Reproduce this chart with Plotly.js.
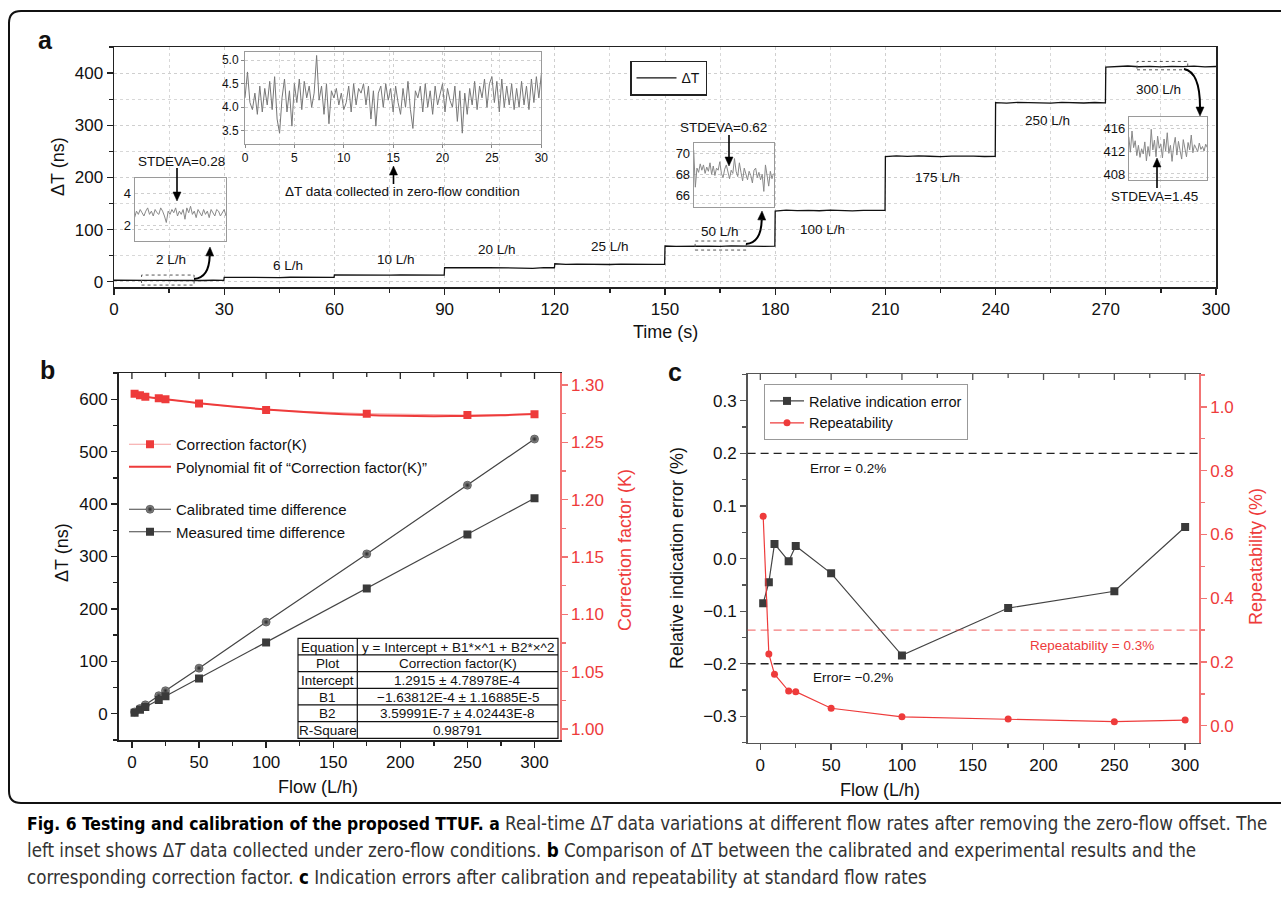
<!DOCTYPE html>
<html><head><meta charset="utf-8">
<script src="https://cdn.plot.ly/plotly-3.0.1.min.js"></script>
<style>html,body{margin:0;padding:0;background:#fff;}#chart{width:1281px;height:908px;}</style>
</head><body><div id="chart"></div>
<script>
// ---------------- data ----------------
// Panel a : real-time ΔT (ns) versus time (s)
const timeS = [
 0,3,6,9,12,15,18,21,24,27,29.9,
 30,33,36,39,42,45,48,51,54,57,59.9,
 60,63,66,69,72,75,78,81,84,87,89.9,
 90,93,96,99,102,105,108,111,114,117,119.9,
 120,123,126,129,132,135,138,141,144,147,149.9,
 150,153,156,159,162,165,168,171,174,177,179.9,
 180,183,186,189,192,195,198,201,204,207,209.9,
 210,213,216,219,222,225,228,231,234,237,239.9,
 240,243,246,249,252,255,258,261,264,267,269.9,
 270,273,276,279,282,285,288,291,294,297,300];
const deltaT = [
 2.9,2.5,3.1,2.6,2.8,2.4,3.0,2.7,2.5,2.9,2.6,
 8.6,8.2,8.9,8.3,8.5,8.1,8.7,8.4,8.2,8.6,8.3,
 13.2,12.8,13.4,12.9,13.1,12.7,13.3,13.0,12.8,13.2,12.9,
 27.3,26.8,27.5,26.9,27.2,26.7,27.4,26.9,25.8,27.1,26.9,
 34.5,33.2,33.8,33.4,33.6,33.1,33.9,33.3,33.5,33.2,33.6,
 68.5,67.9,68.6,68.1,68.4,67.8,68.7,68.0,68.3,67.9,68.4,
 135.5,137.2,136.3,136.9,136.1,137.4,136.6,136.0,136.8,136.2,136.7,
 239.8,241.2,240.3,241.5,240.6,239.9,241.0,240.2,240.8,240.1,240.6,
 343.5,342.6,343.8,342.9,343.4,342.5,343.9,343.1,342.7,343.6,343.0,
 411.5,412.8,413.6,412.1,413.0,411.8,412.9,412.3,413.4,412.0,412.6];
const flowLabels = ["2 L/h","6 L/h","10 L/h","20 L/h","25 L/h","50 L/h","100 L/h","175 L/h","250 L/h","300 L/h"];

// Left inset: zero-flow ΔT, sampled every 0.25 s from 0 to 30 s
const zeroFlowStart = 0, zeroFlowStep = 0.25;
const zeroFlowDT = [
 4.2,4.75,4.1,3.95, 4.3,3.85,4.45,3.9, 4.4,4.05,4.55,3.95, 4.65,3.75,3.45,4.2,
 4.6,3.9,4.35,3.6, 4.5,4.1,4.6,3.95, 4.55,4.2,4.45,4.0, 4.3,5.1,4.15,4.45,
 3.85,4.5,3.65,4.35, 4.2,4.4,4.05,4.3, 3.95,4.1,4.45,3.9, 4.5,4.05,4.4,4.3,
 4.5,4.05,4.45,3.75, 4.35,3.6,4.3,4.45, 4.0,4.5,4.15,4.4, 3.9,4.45,4.1,3.85,
 4.4,4.0,4.55,3.95, 3.55,4.35,4.2,4.45, 3.9,4.5,4.0,4.35, 3.85,4.45,4.05,4.3,
 4.5,3.9,4.4,4.15, 4.0,4.45,3.7,4.35, 3.45,4.3,3.85,4.4, 4.05,4.55,3.95,4.45,
 4.2,4.6,4.0,4.5, 4.65,4.1,4.55,3.9, 4.6,4.0,4.45,4.05, 4.5,3.95,4.4,4.0,
 4.55,4.05,4.45,3.95, 4.6,4.1,4.65,4.2, 4.7];
const zeroFlowTime = zeroFlowDT.map((_, i) => zeroFlowStart + i * zeroFlowStep);

// Small insets (zoomed segments of the trace)
const inset2Lh = [2.5,2.9,2.7,3.0,2.8,2.6,2.9,3.1,2.7,2.9,2.6,3.0,2.8,2.7,3.1,2.9,2.6,2.2,2.9,2.7,3.0,2.8,3.1,2.6,2.9,2.7,3.0,2.4,3.1,2.8,3.2,2.7,2.9,2.5,3.0,2.8,2.6,3.0,2.7,2.9,2.5,3.0,2.8,2.6,3.0,2.9,2.6,2.8,3.0,2.6];
const inset50Lh = [70.3,66.8,68.6,68.2,69.0,68.4,68.9,68.1,68.7,68.3,69.1,68.0,68.8,67.9,68.6,68.4,69.2,68.1,67.7,68.5,68.9,68.2,67.6,68.4,68.1,69.5,68.3,67.8,69.1,68.2,67.4,68.6,68.0,67.5,68.3,67.9,67.2,68.4,68.6,67.7,68.2,67.5,68.0,66.4,68.9,67.8,66.9,68.3,67.6,68.1];
const inset300Lh = [414.5,411.8,415.5,412.6,413.8,411.2,413.0,410.9,412.4,411.5,413.6,410.3,412.8,411.1,415.8,412.2,413.9,411.0,414.6,412.5,413.2,410.8,414.1,412.0,415.2,411.6,413.0,410.2,412.9,414.4,411.3,413.7,412.1,410.6,414.0,412.4,411.0,413.5,412.2,414.8,411.7,413.1,412.6,411.9,413.4,412.3,412.8,412.0,413.2,412.6];
const sampleIndex = n => Array.from({length: n}, (_, i) => i);

// Panel b
const flowB = [2, 6, 10, 20, 25, 50, 100, 175, 250, 300];
const correctionK = [1.2925, 1.2912, 1.2897, 1.2884, 1.2876, 1.2840, 1.2782, 1.2750, 1.2738, 1.2746];
const fitFlow = [2, 25, 50, 75, 100, 125, 150, 175, 200, 225, 250, 275, 300];
const fitK = [1.29118, 1.28763, 1.28421, 1.28124, 1.27872, 1.27665, 1.27503, 1.27386, 1.27314, 1.27287, 1.27305, 1.27368, 1.27476];
const calibratedDT = [3.5, 10, 17, 34.5, 44, 87, 175, 305, 436, 524];
const measuredDT = [2, 7.5, 13, 26.5, 33.5, 67.5, 136, 239, 342, 411];
const tableRows = [
  ["Equation", "y = Intercept + B1*×^1 + B2*×^2"],
  ["Plot", "Correction factor(K)"],
  ["Intercept", "1.2915 ± 4.78978E-4"],
  ["B1", "−1.63812E-4 ± 1.16885E-5"],
  ["B2", "3.59991E-7 ± 4.02443E-8"],
  ["R-Square", "0.98791"]];

// Panel c
const flowC = [2, 6, 10, 20, 25, 50, 100, 175, 250, 300];
const relError = [-0.085, -0.045, 0.028, -0.005, 0.024, -0.028, -0.184, -0.094, -0.062, 0.060];
const repeatability = [0.657, 0.225, 0.162, 0.109, 0.107, 0.055, 0.028, 0.021, 0.013, 0.018];
const errorLimit = 0.2, repeatLimit = 0.3;
const flowTickVals = [0, 25, 50, 75, 100, 125, 150, 175, 200, 225, 250, 275, 300];

// ---------------- helpers (pixel -> paper) ----------------
const W = 1281, H = 908;
const X = p => p / W, Y = p => 1 - p / H;
const dX = (a, b) => [a / W, b / W];
const dY = (top, bot) => [1 - bot / H, 1 - top / H];
const RED = '#ee3b3b', REDAX = 'rgba(238,70,70,0.75)';
const FONT = 'Liberation Sans, Arial, Helvetica, sans-serif';

function ann(text, x, y, o) {
  return Object.assign({text, x: X(x), y: Y(y), xref: 'paper', yref: 'paper', showarrow: false,
    xanchor: 'center', yanchor: 'middle', font: {size: 13, color: '#111'}}, o || {});
}
const shapes = [];
function head(tx, ty, fx, fy) {
  const L = 9, w = 4;
  const dx = tx - fx, dy = ty - fy, len = Math.hypot(dx, dy), ux = dx / len, uy = dy / len;
  const bx = tx - ux * L, by = ty - uy * L, nx = -uy, ny = ux;
  const pts = [[tx, ty], [bx + nx * w, by + ny * w], [bx - nx * w, by - ny * w]];
  shapes.push({type: 'path', xref: 'paper', yref: 'paper', layer: 'above',
    path: 'M' + pts.map(p => X(p[0]) + ',' + Y(p[1])).join(' L') + ' Z',
    fillcolor: '#000', line: {color: '#000', width: 0.5}});
  return [bx, by];
}
function straightArrow(fx, fy, tx, ty) {
  const b = head(tx, ty, fx, fy);
  shapes.push({type: 'line', xref: 'paper', yref: 'paper', x0: X(fx), y0: Y(fy), x1: X(b[0]), y1: Y(b[1]),
    line: {color: '#000', width: 1.6}});
}
function curvedArrow(fx, fy, cx, cy, tx, ty) {
  const b = head(tx, ty, cx, cy);
  shapes.push({type: 'path', xref: 'paper', yref: 'paper',
    path: `M${X(fx)},${Y(fy)} Q${X(cx)},${Y(cy)} ${X(b[0])},${Y(b[1])}`,
    line: {color: '#000', width: 2}});
}
// inward tick marks on the top frame line of panels b and c
function topTicks(xref, topPx, color) {
  flowTickVals.forEach((v, i) => {
    const len = (i % 2 === 0) ? 6 : 4;
    shapes.push({type: 'line', xref: xref, yref: 'paper', x0: v, x1: v, y0: Y(topPx), y1: Y(topPx + len),
      line: {color: color, width: 1.3}});
  });
}

// ---------------- traces ----------------
const traces = [
  {x: timeS, y: deltaT, xaxis: 'x', yaxis: 'y', mode: 'lines', name: 'ΔT', legend: 'legend',
   line: {color: '#111', width: 1.3}},
  {x: zeroFlowTime, y: zeroFlowDT, xaxis: 'x2', yaxis: 'y2', mode: 'lines', showlegend: false,
   line: {color: '#777', width: 1}},
  {x: sampleIndex(inset2Lh.length), y: inset2Lh, xaxis: 'x3', yaxis: 'y3', mode: 'lines', showlegend: false,
   line: {color: '#888', width: 1}},
  {x: sampleIndex(inset50Lh.length), y: inset50Lh, xaxis: 'x4', yaxis: 'y4', mode: 'lines', showlegend: false,
   line: {color: '#888', width: 1}},
  {x: sampleIndex(inset300Lh.length), y: inset300Lh, xaxis: 'x5', yaxis: 'y5', mode: 'lines', showlegend: false,
   line: {color: '#888', width: 1}},
  {x: flowB, y: correctionK, xaxis: 'x6', yaxis: 'y7', mode: 'lines+markers', name: 'Correction factor(K)',
   legend: 'legend2', legendgroup: 'k', line: {color: 'rgba(238,80,80,0.55)', width: 1},
   marker: {symbol: 'square', size: 8, color: RED}},
  {x: fitFlow, y: fitK, xaxis: 'x6', yaxis: 'y7', mode: 'lines', line: {shape: 'spline', color: RED, width: 2},
   name: 'Polynomial fit of “Correction factor(K)”', legend: 'legend2', legendgroup: 'k'},
  {x: flowB, y: calibratedDT, xaxis: 'x6', yaxis: 'y6', mode: 'lines+markers', name: 'Calibrated time difference',
   legend: 'legend2', legendgroup: 'd', line: {color: '#444', width: 1.2},
   marker: {symbol: 'circle', size: 8, color: '#9a9a9a', gradient: {type: 'radial', color: '#262626'}, line: {color: '#333', width: 0.6}}},
  {x: flowB, y: measuredDT, xaxis: 'x6', yaxis: 'y6', mode: 'lines+markers', name: 'Measured time difference',
   legend: 'legend2', legendgroup: 'd', line: {color: '#444', width: 1.2},
   marker: {symbol: 'square', size: 8, color: '#3a3a3a'}},
  {x: flowC, y: relError, xaxis: 'x7', yaxis: 'y8', mode: 'lines+markers', name: 'Relative indication error',
   legend: 'legend3', line: {color: '#444', width: 1.2}, marker: {symbol: 'square', size: 8, color: '#3a3a3a'}},
  {x: flowC, y: repeatability, xaxis: 'x7', yaxis: 'y9', mode: 'lines+markers', name: 'Repeatability',
   legend: 'legend3', line: {color: RED, width: 1.2}, marker: {symbol: 'circle', size: 7, color: RED}}
];

// ---------------- axes ----------------
const tf = s => ({size: s, color: '#111', family: FONT});
const baseAx = {showline: true, linecolor: '#222', linewidth: 1.5, zeroline: false, showgrid: false,
  ticks: 'outside', tickcolor: '#222', tickwidth: 1.3, ticklen: 6, tickfont: tf(17)};
const insetAx = {showline: true, linecolor: '#9a9a9a', linewidth: 1, mirror: true, zeroline: false,
  showgrid: true, gridcolor: '#cfcfcf', griddash: 'dot', gridwidth: 1, ticks: 'outside', ticklen: 3,
  tickcolor: '#888', tickfont: tf(12)};

const layout = {
  width: W, height: H, margin: {l: 0, r: 0, t: 0, b: 0, pad: 0}, autosize: false,
  paper_bgcolor: '#fff', plot_bgcolor: 'rgba(0,0,0,0)', font: {family: FONT, color: '#111'},
  xaxis: Object.assign({}, baseAx, {domain: dX(114, 1216), range: [0, 300], anchor: 'y', tick0: 0, dtick: 30,
    mirror: true, showgrid: true, gridcolor: '#cfcfcf', griddash: 'dot',
    minor: {dtick: 15, ticks: 'outside', ticklen: 4, tickcolor: '#222', showgrid: true, gridcolor: '#d8d8d8', griddash: 'dot'}}),
  yaxis: Object.assign({}, baseAx, {domain: dY(47, 287), range: [-10, 450], anchor: 'x', tick0: 0, dtick: 100,
    mirror: true, showgrid: true, gridcolor: '#cfcfcf', griddash: 'dot',
    minor: {dtick: 50, ticks: 'outside', ticklen: 4, tickcolor: '#222', showgrid: true, gridcolor: '#d8d8d8', griddash: 'dot'}}),
  xaxis2: Object.assign({}, insetAx, {domain: dX(245, 541.3), range: [0, 30], anchor: 'y2', tick0: 0, dtick: 5}),
  yaxis2: Object.assign({}, insetAx, {domain: dY(51.7, 144), range: [3.22, 5.18], anchor: 'x2', tick0: 3.5, dtick: 0.5, tickformat: '.1f'}),
  xaxis3: Object.assign({}, insetAx, {domain: dX(134.6, 226), range: [0, 49], anchor: 'y3', showticklabels: false, ticks: '', showgrid: false}),
  yaxis3: Object.assign({}, insetAx, {domain: dY(177.7, 241), range: [1.06, 4.96], anchor: 'x3', tickvals: [2, 4], ticks: '', tickfont: tf(13)}),
  xaxis4: Object.assign({}, insetAx, {domain: dX(693.7, 773.6), range: [0, 49], anchor: 'y4', showticklabels: false, ticks: '', showgrid: false}),
  yaxis4: Object.assign({}, insetAx, {domain: dY(143.3, 206.7), range: [64.96, 70.94], anchor: 'x4', tickvals: [66, 68, 70], ticks: '', tickfont: tf(13)}),
  xaxis5: Object.assign({}, insetAx, {domain: dX(1128.8, 1207.3), range: [0, 49], anchor: 'y5', showticklabels: false, ticks: '', showgrid: false}),
  yaxis5: Object.assign({}, insetAx, {domain: dY(116.7, 180), range: [406.95, 418.0], anchor: 'x5', tickvals: [408, 412, 416], ticks: '', tickfont: tf(13)}),
  xaxis6: Object.assign({}, baseAx, {domain: dX(118.5, 560), range: [-10, 319], anchor: 'y6', tick0: 0, dtick: 50, mirror: true,
    minor: {dtick: 25, ticks: 'outside', ticklen: 4, tickcolor: '#222'}}),
  yaxis6: Object.assign({}, baseAx, {domain: dY(373, 740), range: [-50, 650], anchor: 'x6', tick0: 0, dtick: 100,
    minor: {dtick: 50, ticks: 'outside', ticklen: 4, tickcolor: '#222'}}),
  yaxis7: Object.assign({}, baseAx, {overlaying: 'y6', side: 'right', anchor: 'x6', range: [0.9904, 1.3105], tick0: 1, dtick: 0.05,
    tickformat: '.2f', linecolor: REDAX, tickcolor: REDAX, tickfont: {size: 17, color: RED, family: FONT},
    minor: {dtick: 0.025, ticks: 'outside', ticklen: 4, tickcolor: REDAX}}),
  xaxis7: Object.assign({}, baseAx, {domain: dX(747.6, 1199.3), range: [-9, 310], anchor: 'y8', tick0: 0, dtick: 50, mirror: true,
    linecolor: '#555', tickcolor: '#555', minor: {dtick: 25, ticks: 'outside', ticklen: 4, tickcolor: '#555'}}),
  yaxis8: Object.assign({}, baseAx, {domain: dY(374, 742.7), range: [-0.35, 0.351], anchor: 'x7', tick0: 0, dtick: 0.1,
    tickformat: '.1f', linecolor: '#555', tickcolor: '#555', minor: {dtick: 0.05, ticks: 'outside', ticklen: 4, tickcolor: '#555'}}),
  yaxis9: Object.assign({}, baseAx, {overlaying: 'y8', side: 'right', anchor: 'x7', range: [-0.053, 1.103], tick0: 0, dtick: 0.2,
    tickformat: '.1f', linecolor: REDAX, tickcolor: REDAX, tickfont: {size: 17, color: RED, family: FONT},
    minor: {dtick: 0.1, ticks: 'outside', ticklen: 4, tickcolor: REDAX}}),
  legend: {x: X(630), y: Y(60.7), xanchor: 'left', yanchor: 'top', bgcolor: '#fff', bordercolor: '#222', borderwidth: 1.5,
    font: {size: 14, family: FONT}, itemwidth: 40},
  legend2: {x: X(124), y: Y(428), xanchor: 'left', yanchor: 'top', bgcolor: 'rgba(0,0,0,0)', borderwidth: 0,
    font: {size: 15, family: FONT}, traceorder: 'grouped', tracegroupgap: 20, itemwidth: 42},
  legend3: {x: X(764), y: Y(384), xanchor: 'left', yanchor: 'top', bgcolor: '#fff', bordercolor: '#999', borderwidth: 1,
    font: {size: 14.5, family: FONT}, itemwidth: 34},
  annotations: [],
  shapes: shapes
};

// inward top ticks
topTicks('x6', 373, '#222');
topTicks('x7', 374, '#555');

// dashed zoom boxes on the main trace (panel a)
[[7.5, 21.8, -6.3, 12.9], [158.2, 172.1, 60.8, 78.1], [278.5, 292.3, 406.3, 422.3]].forEach(b => {
  shapes.push({type: 'rect', xref: 'x', yref: 'y', x0: b[0], x1: b[1], y0: b[2], y1: b[3],
    line: {color: '#555', width: 1, dash: 'dot'}});
});
// limit lines (panel c)
shapes.push({type: 'line', xref: 'x7 domain', yref: 'y8', x0: 0, x1: 1, y0: errorLimit, y1: errorLimit, line: {color: '#222', width: 1.4, dash: '8px,5px'}});
shapes.push({type: 'line', xref: 'x7 domain', yref: 'y8', x0: 0, x1: 1, y0: -errorLimit, y1: -errorLimit, line: {color: '#222', width: 1.4, dash: '8px,5px'}});
shapes.push({type: 'line', xref: 'x7 domain', yref: 'y9', x0: 0, x1: 1, y0: repeatLimit, y1: repeatLimit, line: {color: 'rgba(238,70,70,0.7)', width: 1.4, dash: '8px,5px'}});

// arrows
straightArrow(177, 168, 177, 201);
straightArrow(393.5, 184, 393.5, 166);
straightArrow(729, 135, 729, 166);
straightArrow(1157, 188, 1157, 158);
curvedArrow(194, 279, 209, 278, 210, 247);
curvedArrow(746, 244, 761, 243, 762, 211);
curvedArrow(1184, 69, 1200, 72, 1200, 116);

// table (panel b)
const tL = 298, tR = 558, tC = 357.3, tT = 638.3, tB = 738.3, rowH = (tB - tT) / tableRows.length;
shapes.push({type: 'rect', xref: 'paper', yref: 'paper', x0: X(tL), x1: X(tR), y0: Y(tT), y1: Y(tB), fillcolor: '#fff', line: {color: '#111', width: 1.2}});
shapes.push({type: 'line', xref: 'paper', yref: 'paper', x0: X(tC), x1: X(tC), y0: Y(tT), y1: Y(tB), line: {color: '#111', width: 1.2}});
for (let i = 1; i < tableRows.length; i++) {
  shapes.push({type: 'line', xref: 'paper', yref: 'paper', x0: X(tL), x1: X(tR), y0: Y(tT + i * rowH), y1: Y(tT + i * rowH), line: {color: '#111', width: 1.2}});
}
tableRows.forEach((r, i) => {
  const cy = tT + (i + 0.5) * rowH + 0.5;
  layout.annotations.push(ann(r[0], (tL + tC) / 2, cy, {font: {size: 13.5, color: '#111'}}));
  layout.annotations.push(ann(r[1], (tC + tR) / 2, cy, {font: {size: 13.5, color: '#111'}}));
});

// outer figure frame
shapes.push({type: 'path', xref: 'paper', yref: 'paper', layer: 'below',
  path: `M${X(1295)},${Y(11)} L${X(21)},${Y(11)} Q${X(9)},${Y(11)} ${X(9)},${Y(23)} L${X(9)},${Y(791)} Q${X(9)},${Y(803)} ${X(21)},${Y(803)} L${X(1295)},${Y(803)}`,
  line: {color: '#111', width: 2}});

// text annotations
const A = layout.annotations;
A.push(ann('<b>a</b>', 45, 40, {font: {size: 25, color: '#111'}}));
A.push(ann('<b>b</b>', 47, 370, {font: {size: 25, color: '#111'}}));
A.push(ann('<b>c</b>', 675, 372, {font: {size: 25, color: '#111'}}));
A.push(ann('ΔT (ns)', 58, 167, {textangle: -90, font: {size: 18}}));
A.push(ann('Time (s)', 665, 332, {font: {size: 18}}));
A.push(ann('ΔT (ns)', 62, 553, {textangle: -90, font: {size: 18}}));
A.push(ann('Flow (L/h)', 318, 787, {font: {size: 18}}));
A.push(ann('Correction factor (K)', 625, 550, {textangle: -90, font: {size: 18, color: RED}}));
A.push(ann('Relative indication error (%)', 677, 558, {textangle: -90, font: {size: 18}}));
A.push(ann('Flow (L/h)', 880, 790, {font: {size: 18}}));
A.push(ann('Repeatability (%)', 1256, 557, {textangle: -90, font: {size: 18, color: RED}}));
A.push(ann('STDEVA=0.28', 181, 161, {font: {size: 13.5}}));
A.push(ann('ΔT data collected in zero-flow condition', 402, 191, {font: {size: 13.5}}));
A.push(ann('STDEVA=0.62', 723, 128, {font: {size: 13.5}}));
A.push(ann('STDEVA=1.45', 1154, 197, {font: {size: 13.5}}));
const stepLabelPos = [[171, 259], [288, 266], [396, 259], [497, 249], [610, 247], [720, 231], [822, 229], [937, 177], [1047, 120], [1158, 89]];
flowLabels.forEach((t, i) => A.push(ann(t, stepLabelPos[i][0], stepLabelPos[i][1], {font: {size: 13.5}})));
A.push(ann('Error = 0.2%', 848, 468, {font: {size: 13.5}}));
A.push(ann('Error= −0.2%', 853, 677, {font: {size: 13.5}}));
A.push(ann('Repeatability = 0.3%', 1092, 645, {font: {size: 13.5, color: RED}}));
// caption
const capFont = {size: 18.6, color: '#333', family: 'DejaVu Sans Condensed, Liberation Sans Narrow, Arial Narrow, sans-serif'};
const caption = [
  '<b style="color:#000;font-size:17.4px">Fig. 6 Testing and calibration of the proposed TTUF. a</b> Real-time Δ<i>T</i> data variations at different flow rates after removing the zero-flow offset. The',
  'left inset shows Δ<i>T</i> data collected under zero-flow conditions. <b style="color:#000">b</b> Comparison of ΔT between the calibrated and experimental results and the',
  'corresponding correction factor. <b style="color:#000">c</b> Indication errors after calibration and repeatability at standard flow rates'];
caption.forEach((t, i) => A.push(ann(t, 25, 823 + i * 27, {xanchor: 'left', align: 'left', font: capFont})));

Plotly.newPlot('chart', traces, layout, {displayModeBar: false, staticPlot: true});
</script>
</body></html>
